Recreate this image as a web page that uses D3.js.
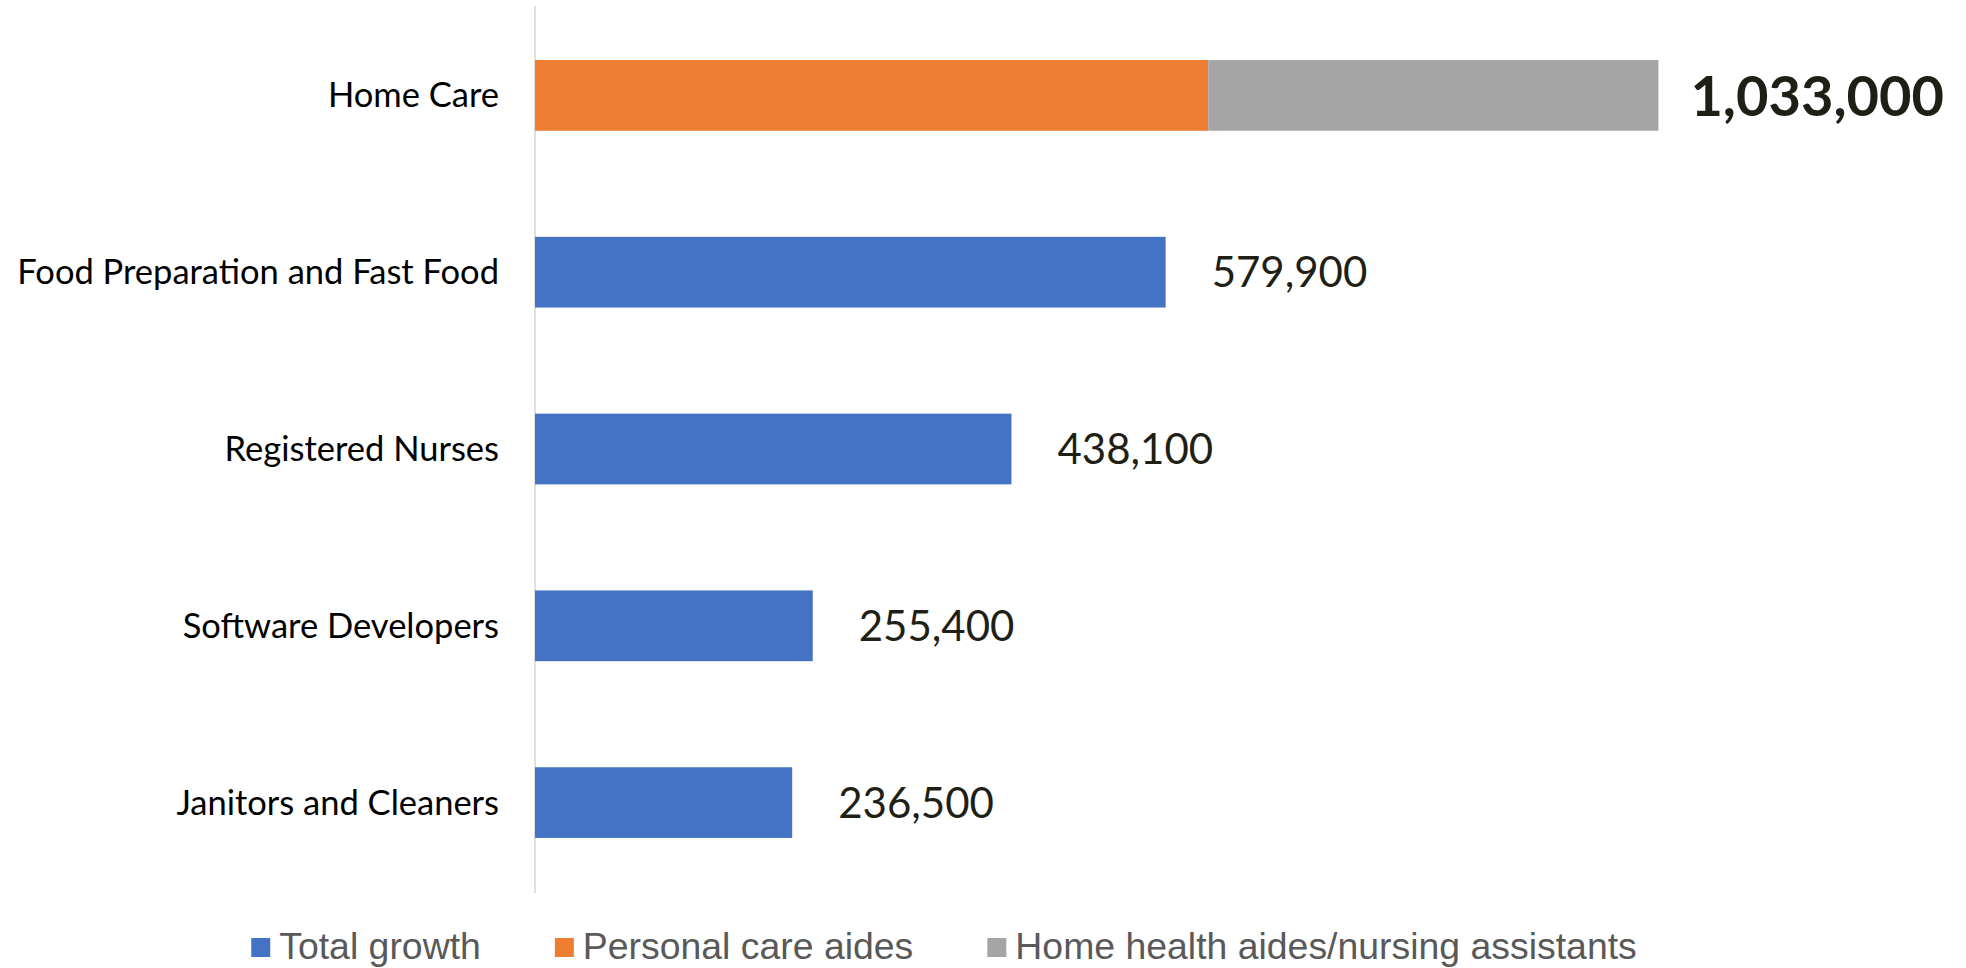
<!DOCTYPE html>
<html>
<head>
<meta charset="utf-8">
<script src="https://cdn.jsdelivr.net/npm/d3@7"></script>
<style>
  html, body { margin: 0; padding: 0; background: #fff; }
  svg { display: block; }
</style>
</head>
<body>
<svg id="chart" width="1966" height="968"></svg>
<script>
// Projected job growth by occupation
const categories = [
  "Home Care",
  "Food Preparation and Fast Food",
  "Registered Nurses",
  "Software Developers",
  "Janitors and Cleaners"
];
const totalGrowth       = [0, 579900, 438100, 255400, 236500];
const personalCareAides = [619000, 0, 0, 0, 0];
const homeHealthAides   = [414000, 0, 0, 0, 0];

const seriesNames  = ["Total growth", "Personal care aides", "Home health aides/nursing assistants"];
const seriesColors = ["#4472C4", "#ED7D31", "#A5A5A5"];

const W = 1966, H = 968;
const svg = d3.select("#chart");

const rows = categories.map((c, i) => ({
  category: c,
  total: totalGrowth[i],
  personal: personalCareAides[i],
  home: homeHealthAides[i]
}));

const x = d3.scaleLinear().domain([0, 1200000]).range([535, 1840]);
const y = d3.scaleBand().domain(categories).range([7, 891])
  .paddingInner(0.6).paddingOuter(0.3);

// vertical category axis line
svg.append("line")
  .attr("x1", x(0)).attr("x2", x(0))
  .attr("y1", 6).attr("y2", 893)
  .attr("stroke", "#d9d9d9").attr("stroke-width", 1.6);

// stacked bars
const keys = ["total", "personal", "home"];
const stack = d3.stack().keys(keys)(rows);
const color = d3.scaleOrdinal().domain(keys).range(seriesColors);

svg.append("g").selectAll("g")
  .data(stack).join("g")
  .attr("fill", d => color(d.key))
  .selectAll("rect")
  .data(d => d.filter(s => s[1] > s[0]))
  .join("rect")
  .attr("x", d => x(d[0]))
  .attr("y", d => y(d.data.category))
  .attr("width", d => x(d[1]) - x(d[0]))
  .attr("height", y.bandwidth());

// category labels
svg.append("g").selectAll("text")
  .data(categories).join("text")
  .attr("x", 499)
  .attr("y", d => y(d) + y.bandwidth() / 2)
  .attr("dy", "0.35em")
  .attr("text-anchor", "end")
  .attr("font-family", "Lato, 'Open Sans', sans-serif")
  .attr("font-size", 34.5)
  .attr("fill", "#000")
  .text(d => d);

// value labels
const fmt = d3.format(",");
const labelGap = 46, totalGap = 32;
svg.append("g").selectAll("text")
  .data(rows).join("text")
  .each(function(d) {
    const sum = d.total + d.personal + d.home;
    const isStacked = d.personal + d.home > 0;
    d3.select(this)
      .attr("x", x(sum) + (isStacked ? totalGap : labelGap))
      .attr("y", y(d.category) + y.bandwidth() / 2)
      .attr("dy", "0.36em")
      .attr("font-family", "Lato, 'Open Sans', sans-serif")
      .attr("font-weight", isStacked ? 700 : 400)
      .attr("font-size", isStacked ? 56 : 42)
      .attr("fill", "#1f1f16")
      .text(fmt(sum));
  });

// legend
const legend = svg.append("g");
const legendFont = 37.4, sw = 19, textGap = 9, itemGap = 74;
const items = legend.selectAll("g").data(seriesNames).join("g");
items.append("rect")
  .attr("width", sw).attr("height", sw)
  .attr("y", 938)
  .attr("fill", (d, i) => seriesColors[i]);
items.append("text")
  .attr("x", sw + textGap)
  .attr("y", 959)
  .attr("font-family", "'Liberation Sans', Arial, sans-serif")
  .attr("font-size", legendFont)
  .attr("fill", "#595959")
  .text(d => d);
const widths = [];
items.each(function() { widths.push(this.getBBox().width); });
const totalW = d3.sum(widths) + itemGap * (widths.length - 1);
let cursor = 944 - totalW / 2;
items.attr("transform", (d, i) => {
  const t = `translate(${cursor},0)`;
  cursor += widths[i] + itemGap;
  return t;
});
</script>
</body>
</html>
